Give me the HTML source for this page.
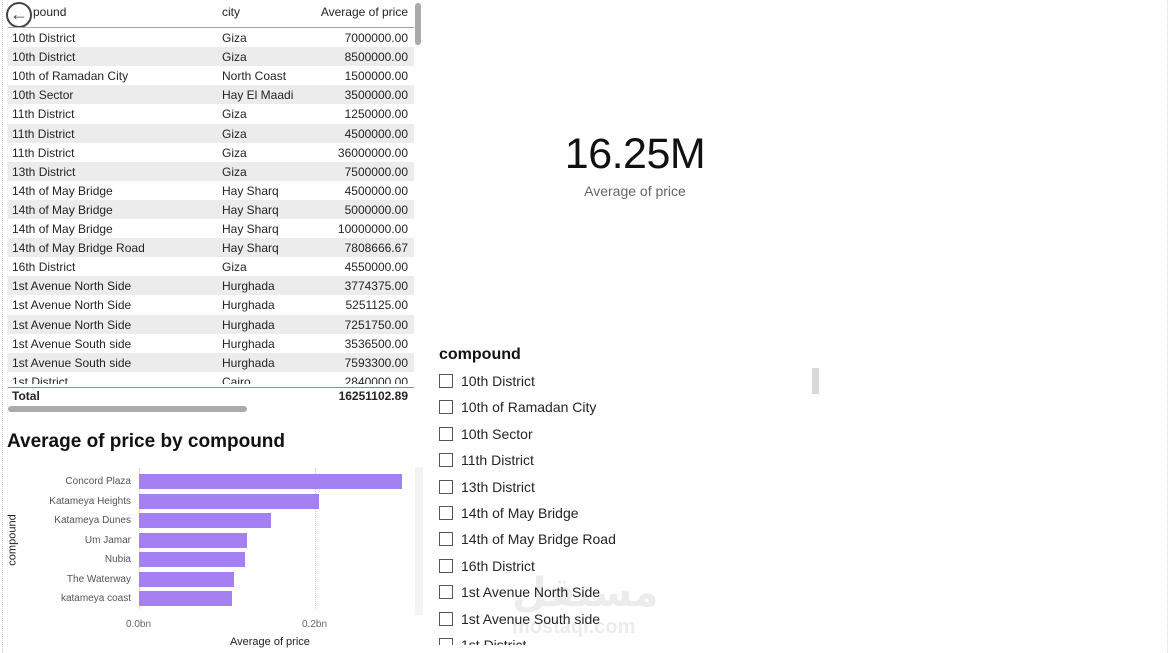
<!DOCTYPE html>
<html><head><meta charset="utf-8"><style>
*{margin:0;padding:0;box-sizing:border-box}
body{width:1169px;height:653px;background:#fff;font-family:"Segoe UI","Liberation Sans","DejaVu Sans",sans-serif;position:relative;overflow:hidden;color:#252423}
.a{position:absolute;white-space:nowrap}
.r{position:absolute;left:8px;width:406px;height:19px;font-size:12px;line-height:19px}
.r span{position:absolute;top:1px}
.g{background:#ececec}
.sl{position:absolute;left:439px;font-size:14px;line-height:18px;color:#252423}
.sl i{display:inline-block;width:14px;height:14px;border:1px solid #555;vertical-align:-2px;margin-right:8px}
</style></head><body>
<div class="a" style="left:2px;top:0;width:1px;height:653px;border-left:1px dotted #ccc"></div>
<div class="a" style="left:1167px;top:0;width:1px;height:653px;border-left:1px dotted #ddd"></div>
<div class="a" style="left:512px;top:570px;font-size:40px;font-weight:bold;color:#ececec;font-family:'DejaVu Sans',sans-serif">مستقل</div>
<div class="a" style="left:512px;top:616px;font-size:20px;font-weight:bold;color:#ececec">mostaqi.com</div>
<!-- table header -->
<div class="a" style="left:6px;top:2px;width:26px;height:26px;border:2.5px solid #444;border-radius:50%;font-size:18px;line-height:20px;text-align:center;color:#444">&#8592;</div>
<div class="a" style="left:33px;top:5px;font-size:12px">pound</div>
<div class="a" style="left:222px;top:5px;font-size:12px">city</div>
<div class="a" style="left:320px;top:5px;font-size:12px;width:88px;text-align:right">Average of price</div>
<div class="a" style="left:8px;top:27px;width:406px;height:1px;background:#7ab0e0"></div>
<div class="a" style="left:415px;top:3px;width:6px;height:42px;background:#aaa;border-radius:3px"></div>
<div id="rows"></div>
<div class="a" style="left:8px;top:387px;width:406px;height:1px;background:#5a9ad8"></div>
<div class="a" style="left:12px;top:389px;font-size:12px;font-weight:bold">Total</div>
<div class="a" style="left:300px;top:389px;width:108px;text-align:right;font-size:12px;font-weight:bold">16251102.89</div>
<div class="a" style="left:8px;top:406px;width:239px;height:6px;background:#aaa;border-radius:3px"></div>
<!-- chart -->
<div class="a" style="left:7px;top:431px;font-size:19px;font-weight:600;color:#111">Average of price by compound</div>
<div class="a" style="left:139px;top:468px;height:142px;border-left:1px dotted #ccc"></div>
<div class="a" style="left:315px;top:468px;height:142px;border-left:1px dotted #ccc"></div>
<div id="bars"></div>
<div class="a" style="left:415px;top:467px;width:8px;height:148px;background:#f3f3f3"></div>
<div class="a" style="left:126px;top:619px;font-size:10px;color:#666">0.0bn</div>
<div class="a" style="left:302px;top:619px;font-size:10px;color:#666">0.2bn</div>
<div class="a" style="left:230px;top:636px;font-size:11px;color:#222">Average of price</div>
<div class="a" style="left:-13px;top:534px;font-size:11px;transform:rotate(-90deg);color:#222">compound</div>
<!-- KPI -->
<div class="a" style="left:535px;top:130px;width:200px;text-align:center;font-size:43px;color:#111;letter-spacing:-0.5px">16.25M</div>
<div class="a" style="left:535px;top:183px;width:200px;text-align:center;font-size:14px;color:#666">Average of price</div>
<!-- slicer -->
<div class="a" style="left:439px;top:346px;font-size:16px;font-weight:bold;color:#111">compound</div>
<div class="a" style="left:812px;top:368px;width:7px;height:26px;background:#d8d8d8"></div>
<div id="sl"></div>
<script>
var d=[["10th District","Giza","7000000.00"],["10th District","Giza","8500000.00"],["10th of Ramadan City","North Coast","1500000.00"],["10th Sector","Hay El Maadi","3500000.00"],["11th District","Giza","1250000.00"],["11th District","Giza","4500000.00"],["11th District","Giza","36000000.00"],["13th District","Giza","7500000.00"],["14th of May Bridge","Hay Sharq","4500000.00"],["14th of May Bridge","Hay Sharq","5000000.00"],["14th of May Bridge","Hay Sharq","10000000.00"],["14th of May Bridge Road","Hay Sharq","7808666.67"],["16th District","Giza","4550000.00"],["1st Avenue North Side","Hurghada","3774375.00"],["1st Avenue North Side","Hurghada","5251125.00"],["1st Avenue North Side","Hurghada","7251750.00"],["1st Avenue South side","Hurghada","3536500.00"],["1st Avenue South side","Hurghada","7593300.00"],["1st District","Cairo","2840000.00"]];
var h="";d.forEach(function(r,i){var t=28+i*19.1;h+='<div class="r'+(i%2?' g':'')+'" style="top:'+t+'px;'+(i==18?'height:12px;overflow:hidden':'')+'"><span style="left:4px">'+r[0]+'</span><span style="left:214px">'+r[1]+'</span><span style="right:6px">'+r[2]+'</span></div>'});
document.getElementById("rows").innerHTML=h;
var b=[["Concord Plaza",402],["Katameya Heights",319],["Katameya Dunes",271],["Um Jamar",247],["Nubia",245],["The Waterway",234],["katameya coast",232]];h="";
b.forEach(function(x,i){var c=481+i*19.5;h+='<div class="a" style="left:139px;top:'+(c-7)+'px;width:'+(x[1]-139)+'px;height:15px;background:#a480f2"></div><div class="a" style="right:1038px;top:'+(c-6)+'px;font-size:10px;color:#555;line-height:14px">'+x[0]+'</div>'});
document.getElementById("bars").innerHTML=h;
var s=["10th District","10th of Ramadan City","10th Sector","11th District","13th District","14th of May Bridge","14th of May Bridge Road","16th District","1st Avenue North Side","1st Avenue South side","1st District"];h="";
s.forEach(function(x,i){var t=372+i*26.4;h+='<div class="sl" style="top:'+t+'px;'+(i==10?'height:9px;overflow:hidden':'')+'"><i></i>'+x+'</div>'});
document.getElementById("sl").innerHTML=h;
</script>
</body></html>
